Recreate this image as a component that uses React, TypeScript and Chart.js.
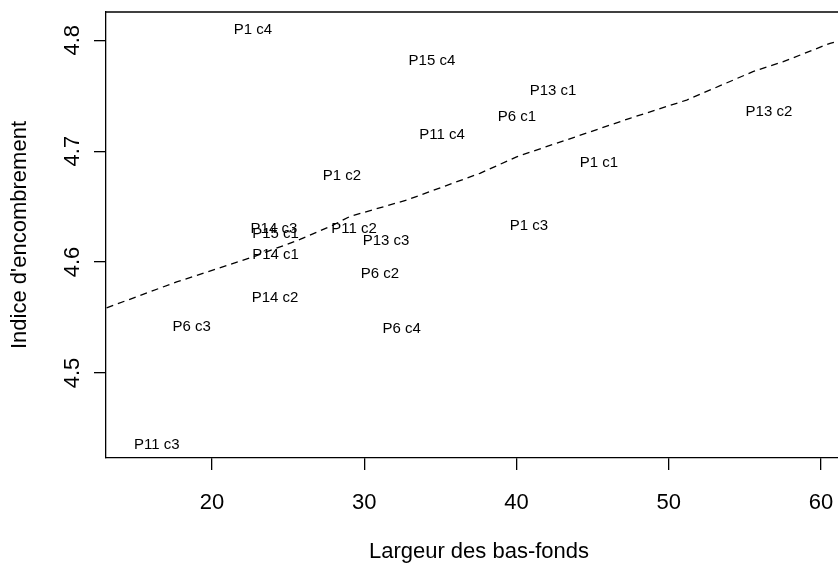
import React, { useEffect, useRef } from "react";
import { Chart, registerables } from "chart.js";

Chart.register(...registerables);

const pointLabels = [
  "P1 c4", "P15 c4", "P13 c1", "P6 c1", "P11 c4", "P13 c2", "P1 c1", "P1 c2",
  "P14 c3", "P15 c1", "P11 c2", "P13 c3", "P1 c3", "P14 c1", "P6 c2", "P14 c2",
  "P6 c3", "P6 c4", "P11 c3",
];
const largeur = [
  22.69, 34.45, 42.4, 40.03, 35.11, 56.58, 45.42, 28.54,
  24.07, 24.18, 29.33, 31.43, 40.82, 24.18, 31.03, 24.14,
  18.67, 32.46, 16.37,
];
const indice = [
  4.8093, 4.7813, 4.7542, 4.7307, 4.7144, 4.7352, 4.6893, 4.6776,
  4.6303, 4.6258, 4.6303, 4.6191, 4.6327, 4.6069, 4.5897, 4.5677,
  4.5415, 4.5397, 4.4347,
];

const smoothX = [13.08, 17.68, 22.71, 25.78, 27.95, 29.06, 32.79, 37.6, 40.01, 47.45, 51.18, 55.53, 57.53, 60.6, 61.4];
const smoothY = [4.5587, 4.5821, 4.6047, 4.6204, 4.6333, 4.6411, 4.6559, 4.68, 4.6949, 4.7296, 4.7461, 4.7717, 4.7807, 4.7973, 4.8];

const xTicks = [20, 30, 40, 50, 60];
const yTicks = [4.5, 4.6, 4.7, 4.8];
const xTitle = "Largeur des bas-fonds";
const yTitle = "Indice d'encombrement";

const FONT = "'Liberation Sans', Arial, Helvetica, sans-serif";

const textPlugin = {
  id: "rText",
  afterDraw(chart: any) {
    const ctx = chart.ctx;
    const area = chart.chartArea;
    const ys = chart.scales.y;
    ctx.save();
    ctx.strokeStyle = "#000";
    ctx.lineWidth = 1.3;
    ctx.beginPath();
    ctx.moveTo(area.left, area.top);
    ctx.lineTo(area.right, area.top);
    ctx.stroke();

    const meta = chart.getDatasetMeta(1);
    ctx.fillStyle = "#000";
    ctx.font = `15px ${FONT}`;
    ctx.textAlign = "center";
    ctx.textBaseline = "middle";
    meta.data.forEach((el: any, i: number) => {
      ctx.fillText(pointLabels[i], el.x, el.y);
    });

    ctx.font = `22px ${FONT}`;
    yTicks.forEach((v) => {
      const py = ys.getPixelForValue(v);
      ctx.save();
      ctx.translate(73, py);
      ctx.rotate(-Math.PI / 2);
      ctx.fillText(String(v), 0, 0);
      ctx.restore();
    });

    ctx.fillText(xTitle, 479, 552);
    ctx.save();
    ctx.translate(20, (area.top + area.bottom) / 2);
    ctx.rotate(-Math.PI / 2);
    ctx.fillText(yTitle, 0, 0);
    ctx.restore();
    ctx.restore();
  },
};

export default function App() {
  const ref = useRef<HTMLCanvasElement | null>(null);
  useEffect(() => {
    if (!ref.current) return;
    const chart = new Chart(ref.current, {
      type: "scatter",
      data: {
        datasets: [
          {
            type: "line",
            data: smoothX.map((x, i) => ({ x, y: smoothY[i] })),
            borderColor: "#000",
            borderWidth: 1.3,
            borderDash: [7, 5],
            pointRadius: 0,
            tension: 0,
            fill: false,
          } as any,
          {
            data: largeur.map((x, i) => ({ x, y: indice[i] })),
            pointRadius: 0,
            backgroundColor: "transparent",
            borderColor: "transparent",
          },
        ],
      },
      options: {
        animation: false,
        responsive: true,
        maintainAspectRatio: false,
        layout: { padding: { top: 12, left: 0, right: 0, bottom: 0 } },
        plugins: { legend: { display: false }, tooltip: { enabled: false } },
        scales: {
          x: {
            type: "linear",
            min: 13.04,
            max: 61.12,
            afterBuildTicks: (s: any) => {
              s.ticks = xTicks.map((v) => ({ value: v }));
            },
            afterFit: (s: any) => {
              s.height = 105;
              s.paddingLeft = 0;
              s.paddingRight = 0;
            },
            grid: { drawOnChartArea: false, tickLength: 12, color: "#000", lineWidth: 1.3 },
            border: { display: true, color: "#000", width: 1.3 },
            ticks: {
              color: "#000",
              font: { size: 22, family: FONT },
              padding: 20,
              maxRotation: 0,
              autoSkip: false,
              callback: (v: any) => String(v),
            },
          },
          y: {
            type: "linear",
            min: 4.4233,
            max: 4.8255,
            afterBuildTicks: (s: any) => {
              s.ticks = yTicks.map((v) => ({ value: v }));
            },
            afterFit: (s: any) => {
              s.width = 106;
              s.paddingTop = 0;
              s.paddingBottom = 0;
            },
            grid: { drawOnChartArea: false, tickLength: 12, color: "#000", lineWidth: 1.3 },
            border: { display: true, color: "#000", width: 1.3 },
            ticks: { display: false },
          },
        },
      },
      plugins: [textPlugin],
    });
    return () => chart.destroy();
  }, []);
  return (
    <div style={{ position: "absolute", left: 0, top: 0, width: 838, height: 563, background: "#fff" }}>
      <canvas ref={ref} />
    </div>
  );
}
